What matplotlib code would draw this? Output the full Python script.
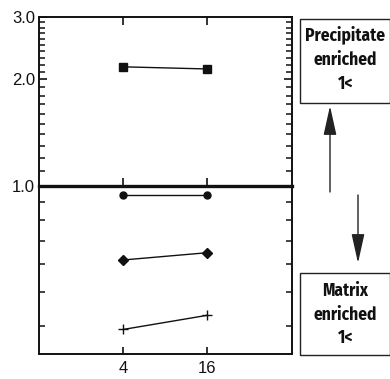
import matplotlib
matplotlib.use('Agg')
import matplotlib.pyplot as plt
from matplotlib.patches import Rectangle
from matplotlib.ticker import FixedLocator, FixedFormatter, NullFormatter, NullLocator

# ---- data ----
x_vals = [4, 16]
square_vals = [2.17, 2.14]
circle_vals = [0.94, 0.94]
diamond_vals = [0.617, 0.647]
plus_vals = [0.392, 0.430]
xtick_vals = [4, 16]
xtick_labels = ['4', '16']
ytick_vals = [1.0, 2.0, 3.0]
ytick_labels = ['1.0', '2.0', '3.0']
upper_minor = [1.1, 1.2, 1.3, 1.4, 1.5, 1.6, 1.7, 1.8, 1.9,
               2.1, 2.2, 2.3, 2.4, 2.5, 2.6, 2.7, 2.8, 2.9]
lower_minor = [0.4, 0.5, 0.6, 0.7, 0.8, 0.9]
top_box_lines = ['Precipitate', 'enriched', '1<']
bot_box_lines = ['Matrix', 'enriched', '1<']

plt.rcParams['font.family'] = ['Liberation Sans', 'DejaVu Sans']

W, H = 390, 379
fig = plt.figure(figsize=(W / 100, H / 100), dpi=100)

def fx(px):
    return px / W

def fy(py):
    return 1 - py / H

left, right = 39, 291.5
y_top, y_mid, y_bot = 17, 186, 354.3
ax_bot = fig.add_axes([fx(left), fy(y_bot), fx(right) - fx(left), (y_bot - y_mid) / H])
ax_top = fig.add_axes([fx(left), fy(y_mid), fx(right) - fx(left), (y_mid - y_top) / H])

line_kw = dict(color='#111111', lw=1.0)
for ax in (ax_top, ax_bot):
    ax.set_facecolor('none')
    ax.set_xscale('log', base=2)
    ax.set_yscale('log')
    ax.set_xlim(1, 64)
    ax.plot(x_vals, square_vals, marker='s', ms=5.5, **line_kw)
    ax.plot(x_vals, circle_vals, marker='o', ms=5, **line_kw)
    ax.plot(x_vals, diamond_vals, marker='D', ms=5, **line_kw)
    ax.plot(x_vals, plus_vals, marker='+', ms=7, mew=1.0, **line_kw)
    for s in ax.spines.values():
        s.set_linewidth(1.4)
        s.set_color('#111111')
    ax.xaxis.set_minor_locator(NullLocator())
    ax.xaxis.set_major_locator(FixedLocator(xtick_vals))

ax_top.set_ylim(1.0, 3.0)
ax_bot.set_ylim(1 / 3, 1.0)

# upper panel
ax_top.yaxis.set_major_locator(FixedLocator(ytick_vals))
ax_top.yaxis.set_major_formatter(FixedFormatter(ytick_labels))
ax_top.yaxis.set_minor_locator(FixedLocator(upper_minor))
ax_top.yaxis.set_minor_formatter(NullFormatter())
ax_top.tick_params(axis='y', which='major', direction='in', left=True, right=True,
                   length=6, width=1.2, labelsize=12, pad=3, colors='#111111')
ax_top.tick_params(axis='y', which='minor', direction='in', left=True, right=True,
                   length=4.2, width=1.1, colors='#111111')
ax_top.tick_params(axis='x', which='major', direction='in', top=True, bottom=True,
                   labelbottom=False, length=5.5, width=1.2, colors='#111111')
ax_top.xaxis.set_major_formatter(NullFormatter())
ax_top.spines['bottom'].set_linewidth(2.4)
ax_top.spines['bottom'].set_zorder(5)

# lower panel
ax_bot.spines['top'].set_visible(False)
ax_bot.yaxis.set_major_locator(NullLocator())
ax_bot.yaxis.set_minor_locator(FixedLocator(lower_minor))
ax_bot.yaxis.set_minor_formatter(NullFormatter())
ax_bot.tick_params(axis='y', which='minor', direction='in', left=True, right=True,
                   length=4.2, width=1.1, colors='#111111')
ax_bot.xaxis.set_major_formatter(FixedFormatter(xtick_labels))
ax_bot.tick_params(axis='x', which='major', direction='in', top=False, bottom=True,
                   length=5, width=1.2, labelsize=12, pad=5, colors='#111111')

# ---- side boxes ----
box_kw = dict(transform=fig.transFigure, fill=False, lw=1.0, ec='#222222')
bx0, bx1 = 300, 389.5
fig.patches.append(Rectangle((fx(bx0), fy(103)), fx(bx1) - fx(bx0), (103 - 19) / H, **box_kw))
fig.patches.append(Rectangle((fx(bx0), fy(355)), fx(bx1) - fx(bx0), (355 - 273) / H, **box_kw))

txt_kw = dict(ha='center', va='center', fontsize=12.5, fontweight='bold',
              family=['Fira Sans Condensed', 'Liberation Sans', 'DejaVu Sans'], color='#111111')
cx = fx((bx0 + bx1) / 2 + 0.5)
for line, yy in zip(top_box_lines, [35, 60, 84]):
    fig.text(cx, fy(yy), line, **txt_kw)
for line, yy in zip(bot_box_lines, [291, 315, 338]):
    fig.text(cx, fy(yy), line, **txt_kw)

arrow_kw = dict(arrowstyle='-|>,head_length=1.8,head_width=0.4', color='#222222',
                lw=1.0, mutation_scale=10, shrinkA=0, shrinkB=0)
ax_top.annotate('', xy=(fx(330), fy(106)), xytext=(fx(330), fy(192)),
                xycoords='figure fraction', textcoords='figure fraction',
                arrowprops=arrow_kw, annotation_clip=False)
ax_top.annotate('', xy=(fx(358), fy(263)), xytext=(fx(358), fy(195)),
                xycoords='figure fraction', textcoords='figure fraction',
                arrowprops=arrow_kw, annotation_clip=False)

fig.savefig('out.png', dpi=100)
